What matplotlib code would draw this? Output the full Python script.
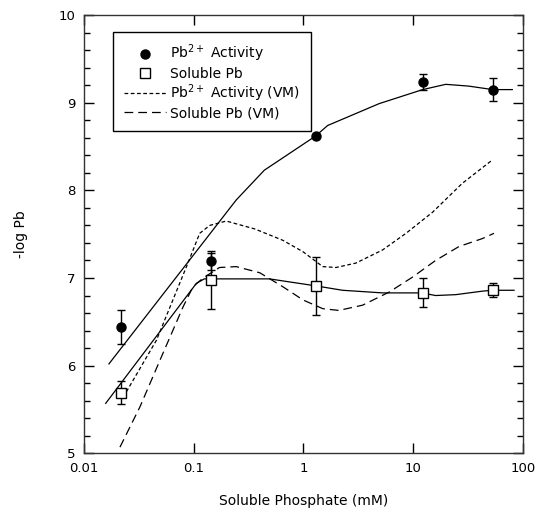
import matplotlib
matplotlib.use('Agg')
import matplotlib.pyplot as plt
from matplotlib.ticker import FixedLocator, MultipleLocator, NullLocator

# measured points
phos = [0.0217, 0.1435, 1.29, 12.2, 53.0]
pb_act = [6.44, 7.19, 8.62, 9.24, 9.15]
pb_act_err = [0.19, 0.10, 0.02, 0.09, 0.13]
pb_sol = [5.69, 6.98, 6.91, 6.83, 6.86]
pb_sol_err = [0.13, 0.33, 0.33, 0.165, 0.08]

# fitted curves
fit_act_x = [0.0169, 0.244, 0.44, 1.29, 1.66, 4.9, 12.2, 19.8, 32, 53, 80]
fit_act_y = [6.02, 7.89, 8.23, 8.62, 8.74, 8.99, 9.15, 9.21, 9.19, 9.15, 9.15]

fit_sol_x = [0.0158, 0.106, 0.125, 0.32, 0.49, 1.3, 2.27, 5.26, 12, 16, 24.4, 42.7, 53, 83]
fit_sol_y = [5.57, 6.94, 6.99, 6.99, 6.99, 6.91, 6.86, 6.83, 6.83, 6.80, 6.81, 6.85, 6.86, 6.86]

# VM model curves
vm_act_x = [0.0228, 0.0458, 0.086, 0.1135, 0.14, 0.198, 0.36, 0.65, 0.99, 1.5, 1.98,
            3.0, 5.26, 8.6, 15, 28, 53]
vm_act_y = [5.64, 6.29, 7.13, 7.51, 7.60, 7.65, 7.56, 7.43, 7.30, 7.13, 7.12,
            7.17, 7.32, 7.51, 7.75, 8.08, 8.35]

vm_sol_x = [0.0213, 0.0324, 0.0508, 0.08, 0.0985, 0.122, 0.172, 0.244, 0.40, 0.65,
            0.99, 1.5, 2.1, 3.46, 6.05, 9.86, 16, 26.2, 42.7, 54.5]
vm_sol_y = [5.07, 5.53, 6.10, 6.67, 6.90, 7.00, 7.12, 7.13, 7.06, 6.90,
            6.75, 6.65, 6.63, 6.69, 6.84, 7.01, 7.20, 7.36, 7.45, 7.51]

plt.rcParams['font.family'] = ['DejaVu Sans']

fig = plt.figure(figsize=(5.38, 5.21), dpi=100)
ax = fig.add_axes([0.156, 0.13, 0.816, 0.841])

ax.plot(fit_act_x, fit_act_y, color='black', lw=0.9)
ax.plot(fit_sol_x, fit_sol_y, color='black', lw=0.9)
l3, = ax.plot(vm_act_x, vm_act_y, color='black', lw=0.9, dashes=(3, 2))
l4, = ax.plot(vm_sol_x, vm_sol_y, color='black', lw=0.9, dashes=(7, 4))

ax.errorbar(phos, pb_act, yerr=pb_act_err, fmt='o', color='black',
            ms=6.5, capsize=3, elinewidth=1, capthick=1)
ax.errorbar(phos, pb_sol, yerr=pb_sol_err, fmt='s', color='black',
            mfc='white', mec='black', ms=6.5, mew=1, capsize=3,
            elinewidth=1, capthick=1)

ax.set_xscale('log')
ax.set_xlim(0.01, 100)
ax.set_ylim(5, 10)

ax.xaxis.set_major_locator(FixedLocator([0.01, 0.1, 1, 10, 100]))
ax.xaxis.set_minor_locator(NullLocator())
ax.set_xticklabels(['0.01', '0.1', '1', '10', '100'])
ax.yaxis.set_major_locator(MultipleLocator(1))
ax.yaxis.set_minor_locator(MultipleLocator(0.2))

ax.tick_params(which='both', direction='in', top=True, right=True,
               labelsize=9.5, width=1)
ax.tick_params(which='major', length=7, pad=6)
ax.tick_params(which='minor', length=4)
for s in ax.spines.values():
    s.set_linewidth(1)
    s.set_color('#333333')

ax.set_xlabel('Soluble Phosphate (mM)', fontsize=10, labelpad=14)
ax.set_ylabel('-log Pb', fontsize=10, labelpad=22)

# legend entries: markers only for the data, lines for the model
h1 = plt.Line2D([], [], ls='none', marker='o', color='black', ms=6.5)
h2 = plt.Line2D([], [], ls='none', marker='s', mfc='white', mec='black', ms=6.5)
leg = ax.legend([h1, h2, l3, l4],
                ['Pb$^{2+}$ Activity', 'Soluble Pb', 'Pb$^{2+}$ Activity (VM)', 'Soluble Pb (VM)'],
                loc='upper left', bbox_to_anchor=(0.066, 0.962), borderaxespad=0,
                fontsize=10, fancybox=False, framealpha=1, edgecolor='black',
                handlelength=3.0, handletextpad=0.3, labelspacing=0.15,
                borderpad=0.8)
leg.get_frame().set_linewidth(1)

plt.savefig('out.png', dpi=100)
